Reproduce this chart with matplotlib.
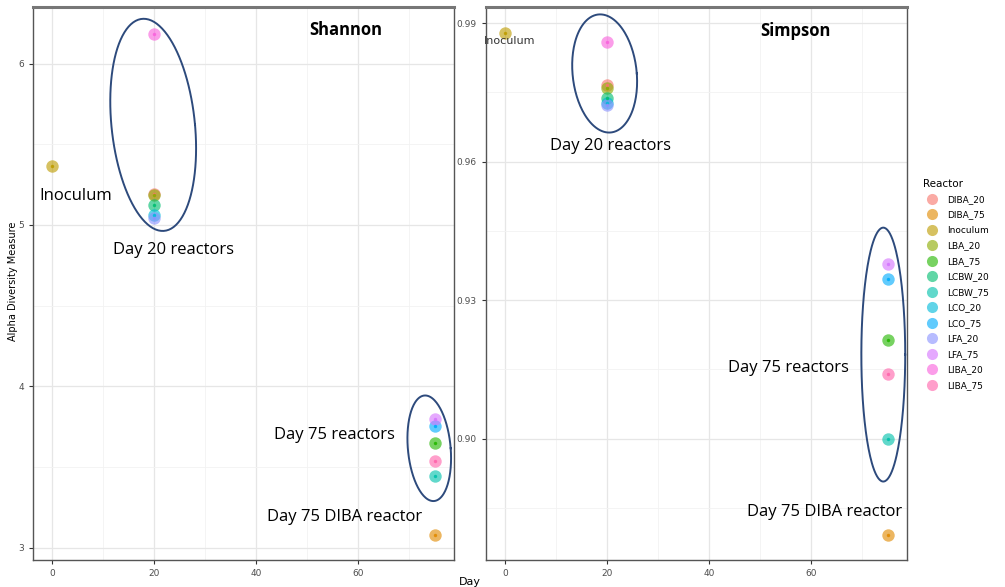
import matplotlib.pyplot as plt
import numpy as np
from matplotlib.lines import Line2D

reactors = ['DIBA_20', 'DIBA_75', 'Inoculum', 'LBA_20', 'LBA_75', 'LCBW_20', 'LCBW_75',
            'LCO_20', 'LCO_75', 'LFA_20', 'LFA_75', 'LIBA_20', 'LIBA_75']
colors = ['#F8766D', '#E18A00', '#BE9C00', '#8CAB00', '#24B700', '#00BE70', '#00C1AB',
          '#00BBDA', '#00ACFC', '#8B93FF', '#D575FE', '#F962DD', '#FF65AC']
days = [20, 75, 0, 20, 75, 20, 75, 20, 75, 20, 75, 20, 75]
shannon = [5.19, 3.08, 5.364, 5.185, 3.648, 5.123, 3.444, 5.06, 3.753, 5.043, 3.796, 6.185, 3.537]
simpson = [0.9765, 0.8791, 0.9878, 0.9759, 0.9213, 0.9737, 0.9000, 0.9728, 0.9346, 0.9722, 0.9378, 0.9859, 0.9139]

# draw order so the visible colours sit on top like in the original
order = [0, 3, 2, 5, 7, 9, 11, 1, 6, 12, 4, 8, 10]

W, H = 1005, 587
fig = plt.figure(figsize=(W / 100, H / 100), dpi=100)
plt.rcParams['font.family'] = ['DejaVu Sans']


def px_axes(x0, x1, y0, y1):
    return fig.add_axes([x0 / W, 1 - y1 / H, (x1 - x0) / W, (y1 - y0) / H])


def style(ax, yticks, ylim, fmt):
    ax.set_xticks([0, 20, 40, 60])
    ax.set_xticks([10, 30, 50, 70], minor=True)
    ax.set_yticks(yticks)
    ax.set_yticklabels([fmt.format(v) for v in yticks])
    step = yticks[1] - yticks[0]
    mids = [v + step / 2 for v in [yticks[0] - step] + list(yticks)]
    ax.set_yticks(mids, minor=True)
    ax.set_xlim(-3.75, 78.75)
    ax.set_ylim(*ylim)
    ax.grid(True, which='major', color='#e6e6e6', lw=0.9)
    ax.grid(True, which='minor', color='#f2f2f2', lw=0.6)
    ax.set_axisbelow(True)
    ax.tick_params(which='major', labelsize=6.5, labelcolor='#4d4d4d', color='#333333', length=3)
    ax.tick_params(which='minor', length=0)
    for s in ax.spines.values():
        s.set_color('#555555')
        s.set_linewidth(1.0)
    ax.spines['top'].set_linewidth(2.2)
    ax.spines['top'].set_color('#777777')


def points(ax, vals):
    for i in order:
        ax.scatter(days[i], vals[i], s=80, color=colors[i], alpha=0.62, lw=0, zorder=3)
        ax.scatter(days[i], vals[i], s=6, color=colors[i], alpha=0.9, lw=0, zorder=4)


def ellipse(ax, cx, cy, rx, vx, vy):
    t = np.linspace(0, 2 * np.pi, 200)
    ax.plot(cx + rx * np.cos(t) + vx * np.sin(t), cy + vy * np.sin(t),
            color='#2d4a7c', lw=1.4, zorder=5, clip_on=False)


big = dict(fontsize=12, family='Open Sans', color='black', ha='center', va='center', zorder=6)

# Shannon
ax1 = px_axes(33, 454, 7, 560)
style(ax1, [3, 4, 5, 6], (2.925, 6.35), '{:g}')
points(ax1, shannon)
ellipse(ax1, 19.8, 5.62, 8.2, -1.86, 0.657)
ellipse(ax1, 73.9, 3.617, 4.2, -0.8, 0.327)
ax1.text(57.6, 6.21, 'Shannon', fontweight='bold', **big)
ax1.text(4.7, 5.18, 'Inoculum', **big)
ax1.text(23.7, 4.846, 'Day 20 reactors', **big)
ax1.text(55.3, 3.70, 'Day 75 reactors', **big)
ax1.text(57.3, 3.19, 'Day 75 DIBA reactor', **big)

# Simpson
ax2 = px_axes(486, 907, 7, 560)
style(ax2, [0.90, 0.93, 0.96, 0.99], (0.8737, 0.9935), '{:.2f}')
points(ax2, simpson)
ellipse(ax2, 19.5, 0.9791, 6.3, -0.88, 0.0128)
ellipse(ax2, 74.1, 0.9182, 4.3, 0.0, 0.0275)
ax2.text(56.9, 0.9883, 'Simpson', fontweight='bold', **big)
ax2.text(0.9, 0.9861, 'Inoculum', fontsize=8, color='#333333', ha='center', va='center',
         zorder=6, clip_on=False)
ax2.text(20.6, 0.9633, 'Day 20 reactors', **big)
ax2.text(55.6, 0.9154, 'Day 75 reactors', **big)
ax2.text(62.6, 0.8841, 'Day 75 DIBA reactor', **big)

fig.text(470 / W, 1 - 582 / H, 'Day', fontsize=8, ha='center', va='center')
fig.text(13 / W, 1 - 281 / H, 'Alpha Diversity Measure', fontsize=7, rotation=90,
         ha='center', va='center')

handles = [Line2D([], [], marker='o', ls='', markersize=8, color=c, alpha=0.62,
                  markeredgewidth=0) for c in colors]
leg = fig.legend(handles, reactors, title='Reactor', loc='upper left',
                 bbox_to_anchor=(918 / W, 1 - 174 / H), frameon=False,
                 fontsize=6.5, title_fontsize=7.5, labelspacing=0.72,
                 handletextpad=0.7, borderpad=0)
leg._legend_box.align = 'left'

fig.savefig('out.png', dpi=100)
